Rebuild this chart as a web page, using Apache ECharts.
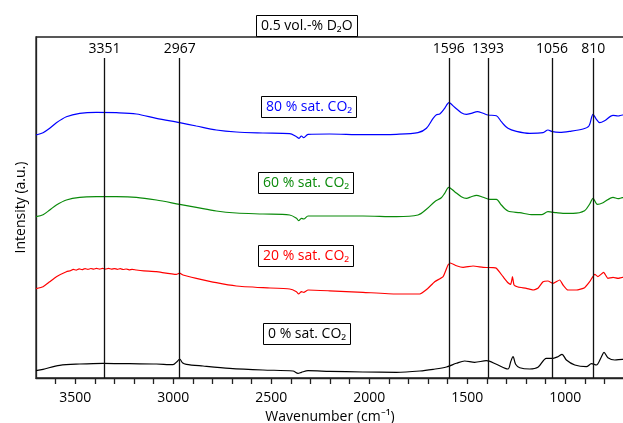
<!DOCTYPE html>
<html><head><meta charset="utf-8">
<script src="https://cdn.jsdelivr.net/npm/echarts@6/dist/echarts.min.js"></script>
<style>html,body{margin:0;padding:0;background:#fff}#c{width:623px;height:423px}</style>
</head><body><div id="c"></div>
<script>
const majorTicks = [3500, 3000, 2500, 2000, 1500, 1000];
const minorTicks = [3600,3500,3400,3300,3200,3100,3000,2900,2800,2700,2600,2500,2400,2300,2200,2100,2000,1900,1800,1700,1600,1500,1400,1300,1200,1100,1000,900,800];
const peakPositions = [3351, 2967, 1594, 1394, 1067, 857];
const peakLabels = ['3351', '2967', '1596', '1393', '1056', '810'];
const seriesNames = ['80 % sat. CO₂', '60 % sat. CO₂', '20 % sat. CO₂', '0 % sat. CO₂'];

const spec80 = [[3700,243],[3664,245.3],[3630,249.7],[3596,255.3],[3545,261.3],[3477,264.7],[3392,265.7],[3290,265.3],[3188,264],[3086,259.7],[2967,255.3],[2882,252],[2780,248],[2678,246],[2542,245],[2406,244.3],[2371,241.3],[2358,239.7],[2346,242],[2334,240.3],[2312,243.7],[2202,244],[2032,243.3],[1861,243.7],[1751,245.3],[1708,249.7],[1674,259.7],[1657,263.3],[1640,264],[1615,269.7],[1593,275.3],[1564,270.7],[1530,265.3],[1504,263.7],[1479,264.7],[1448,266.3],[1419,264.7],[1394,263],[1351,262.3],[1326,256.3],[1292,249.7],[1249,246.7],[1181,244.7],[1113,245.3],[1088,248],[1065,246.3],[1028,245.7],[977,246.7],[909,249],[879,252],[858,263.7],[841,258.7],[824,255.3],[799,257.3],[756,262.7],[730,262],[708,263],[700,263]];

const spec60 = [[3700,161.3],[3664,163.3],[3630,168],[3596,173],[3545,178],[3477,180.7],[3392,181.3],[3290,181.3],[3188,180.7],[3086,178],[2967,173.7],[2882,170.7],[2780,167],[2678,165],[2542,164],[2406,163],[2371,159.7],[2360,157.3],[2346,159.7],[2334,159],[2312,162],[2202,162],[2032,162],[1861,161.3],[1751,163],[1708,168.7],[1666,176.3],[1632,180.3],[1615,184.7],[1594,190.7],[1564,186.3],[1530,181.3],[1504,179.7],[1479,181.3],[1453,182.7],[1419,180.7],[1385,178.7],[1351,178.7],[1326,173],[1292,167],[1232,165.3],[1164,163.3],[1121,163.3],[1088,166.3],[1045,165.3],[1011,164.7],[960,164.7],[901,167.3],[875,174],[858,179.7],[836,173.7],[807,175.3],[756,180.7],[730,179.3],[708,180.3],[700,180.3]];

const spec20 = [[3700,89.3],[3664,91.3],[3630,96.3],[3596,101.3],[3545,106.3],[3525,107.2],[3510,108.6],[3495,107.9],[3480,109.1],[3465,108.3],[3450,109.4],[3435,108.6],[3420,109.5],[3405,108.8],[3392,109.6],[3375,108.9],[3360,109.7],[3345,108.9],[3330,109.6],[3315,108.8],[3300,109.4],[3285,108.7],[3270,109.3],[3255,108.5],[3240,109],[3225,108.2],[3210,108.7],[3188,108],[3150,107.2],[3086,106.3],[2984,103.7],[2967,104.9],[2950,103],[2882,99.7],[2780,95.3],[2678,92],[2542,90.3],[2406,89],[2371,86.3],[2360,84],[2346,86.3],[2334,85.7],[2312,88],[2202,87.2],[2032,85.7],[1861,84],[1742,84],[1700,89.7],[1666,96.3],[1623,101.3],[1598,113],[1586,115],[1555,112.3],[1521,110.7],[1470,112],[1419,110.7],[1368,110.3],[1351,109.7],[1317,101.3],[1292,95.3],[1278,93.7],[1269,101.3],[1261,93],[1241,91],[1198,89.7],[1164,88],[1139,89.7],[1113,96.3],[1088,97],[1062,94.7],[1028,98],[1011,93],[986,88],[943,88],[901,90.3],[875,96.3],[849,103.7],[833,101.3],[804,105.7],[782,99.7],[756,100.7],[730,99.7],[708,100.7],[700,100.7]];

const spec0 = [[3700,7.3],[3664,8.7],[3579,12.7],[3477,14],[3358,14.7],[3222,14.3],[3086,14],[3001,13.3],[2981,16.3],[2967,19],[2953,15.3],[2933,13.7],[2848,12],[2712,9.7],[2542,8],[2389,7],[2363,4.7],[2346,5.7],[2312,7.3],[2202,6.7],[2032,6],[1861,5.7],[1742,7],[1674,8.7],[1606,11],[1555,14.7],[1513,17],[1462,15.7],[1402,17.3],[1351,13.7],[1292,9],[1278,16.3],[1266,21.3],[1253,13.7],[1232,10.3],[1181,9],[1139,10.7],[1096,19.7],[1062,19.7],[1037,21.3],[1016,23.7],[994,18],[951,13],[892,11.3],[866,14.3],[841,13],[815,21.3],[802,25.7],[782,20.3],[747,18],[708,18.7],[700,18.7]];

const colors = ['#0000ff', '#0a8a0a', '#ff0000', '#000000'];
const font = 'Open Sans';

const chart = echarts.init(document.getElementById('c'), null, {renderer: 'canvas'});

function boxTitle(text, left, top, color) {
  return {
    text: text, left: left, top: top,
    padding: [2, 5, 2, 5],
    borderColor: '#000', borderWidth: 1,
    textStyle: {fontFamily: font, fontSize: 14, fontWeight: 'normal', color: color, lineHeight: 18}
  };
}

const lineSeries = [spec80, spec60, spec20, spec0].map((d, i) => ({
  type: 'line', name: seriesNames[i], data: d, showSymbol: false, smooth: i === 2 ? 0.15 : 0.3,
  lineStyle: {color: colors[i], width: 1.2}, itemStyle: {color: colors[i]},
  silent: true, z: 3
}));

lineSeries[3].markLine = {
  silent: true, symbol: ['none', 'none'], animation: false,
  lineStyle: {color: '#111', width: 1.3, type: 'solid'},
  label: {show: true, position: 'end', formatter: '{b}', color: '#000', fontFamily: font, fontSize: 14, distance: 2},
  data: peakPositions.map((p, i) => [{coord: [p, 0], name: peakLabels[i]}, {coord: [p, 320]}])
};

chart.setOption({
  animation: false,
  backgroundColor: '#fff',
  title: [
    boxTitle('0.5 vol.-% D₂O', 256, 15, '#000'),
    boxTitle(seriesNames[0], 261, 96, colors[0]),
    boxTitle(seriesNames[1], 258, 172, colors[1]),
    boxTitle(seriesNames[2], 258, 245, colors[2]),
    boxTitle(seriesNames[3], 263, 323, colors[3])
  ],
  grid: {left: 36, right: -1, top: 37, bottom: 45, containLabel: false, outerBoundsMode: 'none', show: true, borderColor: '#222', borderWidth: 1.3, backgroundColor: 'transparent'},
  xAxis: {
    type: 'value', min: 700, max: 3700, inverse: true, position: 'bottom',
    name: 'Wavenumber (cm⁻¹)', nameLocation: 'middle', nameGap: 29,
    nameTextStyle: {fontFamily: font, fontSize: 14, color: '#000'},
    axisLine: {show: true, lineStyle: {color: '#222', width: 1.3}},
    axisTick: {show: true, customValues: minorTicks, length: 6, lineStyle: {color: '#222', width: 1.3}},
    axisLabel: {show: true, customValues: majorTicks, margin: 13, fontFamily: font, fontSize: 14, color: '#000', formatter: (v) => String(v)},
    splitLine: {show: false}
  },
  yAxis: {
    type: 'value', min: 0, max: 341,
    name: 'Intensity (a.u.)', nameLocation: 'middle', nameGap: 8,
    nameTextStyle: {fontFamily: font, fontSize: 14, color: '#000'},
    axisLine: {show: true, lineStyle: {color: '#222', width: 1.3}},
    axisTick: {show: false}, axisLabel: {show: false}, splitLine: {show: false}
  },
  series: lineSeries
});
</script>
</body></html>
